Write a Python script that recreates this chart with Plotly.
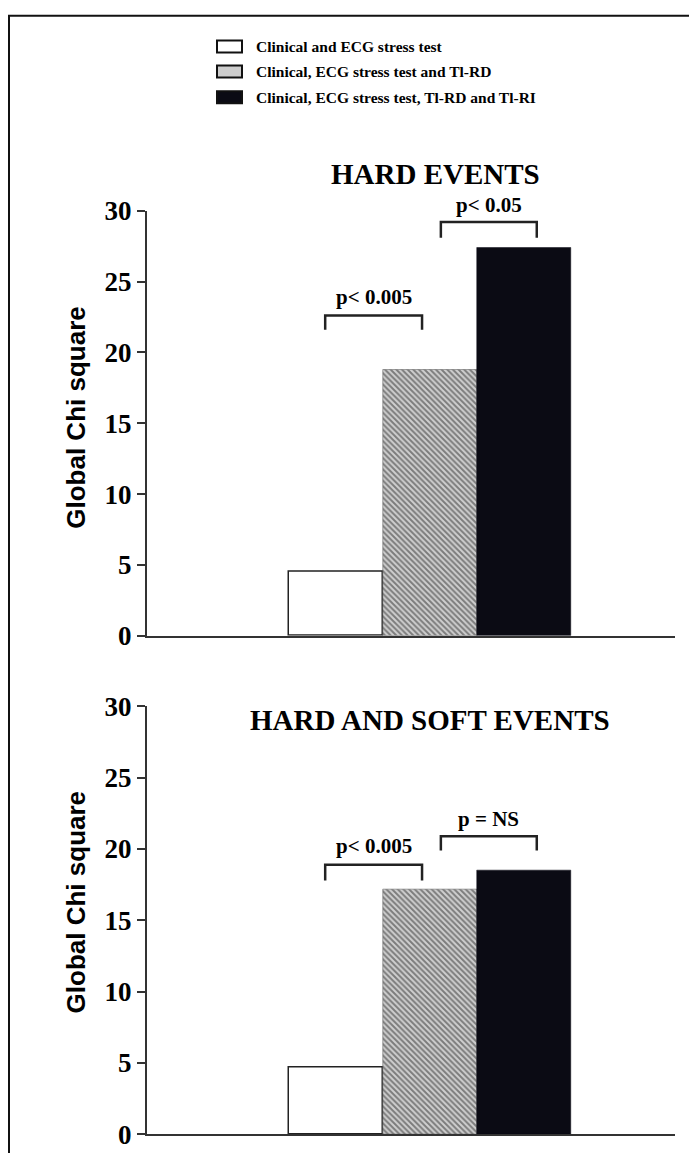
import plotly.graph_objects as go
from plotly.subplots import make_subplots

# ---- data ----
series_names = ["Clinical and ECG stress test",
                "Clinical, ECG stress test and Tl-RD",
                "Clinical, ECG stress test, Tl-RD and Tl-RI"]
bar_positions = [1, 2, 3]
hard_values = [4.5, 18.8, 27.4]
hard_soft_values = [4.7, 17.2, 18.5]
panel_titles = ["HARD EVENTS", "HARD AND SOFT EVENTS"]
y_ticks = [0, 5, 10, 15, 20, 25, 30]
hard_pvalues = ["p< 0.005", "p< 0.05"]
hard_soft_pvalues = ["p< 0.005", "p = NS"]

W, H = 689, 1168
def px(x):
    return x / W
def py(y):
    yf = (y - 13.3) / 0.979
    return min(1.0, max(0.0, 1 - yf / H))

fig = make_subplots(rows=2, cols=1)

for row, vals in [(1, hard_values), (2, hard_soft_values)]:
    for i, (xv, v) in enumerate(zip(bar_positions, vals)):
        if i == 0:
            marker = dict(color="white", line=dict(color="#222", width=1.5))
        elif i == 1:
            marker = dict(color="#c4c4c4",
                          pattern=dict(shape="\\", fgcolor="#2a2a2a", bgcolor="#cfcfcf",
                                       size=4, solidity=0.5),
                          line=dict(color="#555", width=0.5))
        else:
            marker = dict(color="#0b0b14", line=dict(color="#0b0b14", width=0.5))
        fig.add_trace(go.Bar(x=[xv], y=[v], width=1.0, marker=marker,
                             name=series_names[i], showlegend=False),
                      row=row, col=1)

xdom = [px(147), px(675)]
ydom1 = [py(637), py(210)]
ydom2 = [py(1138), py(708)]
fig.update_layout(
    width=W, height=H, margin=dict(l=0, r=0, t=0, b=0),
    paper_bgcolor="white", plot_bgcolor="white", bargap=0, barmode="overlay",
    showlegend=False,
    xaxis=dict(domain=xdom, anchor="y"),
    xaxis2=dict(domain=xdom, anchor="y2"),
    yaxis=dict(domain=ydom1, anchor="x"),
    yaxis2=dict(domain=ydom2, anchor="x2"),
)
for ax in ["xaxis", "xaxis2"]:
    fig.layout[ax].update(range=[-1.005, 4.61], showline=True, linecolor="#333",
                          linewidth=2, showticklabels=False, ticks="",
                          showgrid=False, zeroline=False)
for ax in ["yaxis", "yaxis2"]:
    fig.layout[ax].update(range=[0, 30], tickvals=y_ticks, showline=True,
                          linecolor="#333", linewidth=2, ticks="outside",
                          ticklen=8, tickwidth=2, tickcolor="#333",
                          showgrid=False, zeroline=False,
                          tickfont=dict(family="Liberation Serif", size=27,
                                        color="black", weight="bold"))

# frame border
fig.add_shape(type="line", xref="paper", yref="paper", x0=px(8), x1=1.0,
              y0=py(14), y1=py(14), line=dict(color="#111", width=2))
fig.add_shape(type="line", xref="paper", yref="paper", x0=px(9), x1=px(9),
              y0=py(14), y1=0, line=dict(color="#111", width=2))

# legend
leg_y = [45, 70, 96]
for i, name in enumerate(series_names):
    y = leg_y[i]
    fc = ["white", "#cdcdcd", "#0b0b14"][i]
    fig.add_shape(type="rect", xref="paper", yref="paper",
                  x0=px(217), x1=px(242), y0=py(y + 6), y1=py(y - 6),
                  fillcolor=fc, line=dict(color="#111", width=2))
    fig.add_annotation(xref="paper", yref="paper", x=px(254), y=py(y),
                       text=name, showarrow=False, xanchor="left", yanchor="middle",
                       font=dict(family="Liberation Serif", size=15.5, color="black",
                                 weight="bold"))

# panel titles and y titles
title_pos = [(435, 173), (430, 722)]
title_sizes = [29, 29]
ytitle_pos = [(76, 418), (76, 905)]
for k in range(2):
    fig.add_annotation(xref="paper", yref="paper", x=px(title_pos[k][0]),
                       y=py(title_pos[k][1]), text=panel_titles[k], showarrow=False,
                       xanchor="center", yanchor="middle",
                       font=dict(family="Liberation Serif", size=title_sizes[k],
                                 color="black", weight="bold"))
    fig.add_annotation(xref="paper", yref="paper", x=px(ytitle_pos[k][0]),
                       y=py(ytitle_pos[k][1]), text="Global Chi square",
                       showarrow=False, textangle=-90, xanchor="center",
                       yanchor="middle",
                       font=dict(family="Liberation Sans", size=26, color="black",
                                 weight="bold"))

# significance brackets
def to_paper(row, yv):
    d = ydom1 if row == 1 else ydom2
    return d[0] + (d[1] - d[0]) * yv / 30.0

def bracket(row, xa, xb, ytop, ybot, label, ylab):
    xr = "x" if row == 1 else "x2"
    yr = "y" if row == 1 else "y2"
    fig.add_shape(type="path", xref=xr, yref=yr,
                  path=f"M {xa} {ybot} L {xa} {ytop} L {xb} {ytop} L {xb} {ybot}",
                  line=dict(color="#222", width=2.5))
    fig.add_annotation(xref=xr, yref="paper", x=(xa + xb) / 2, y=to_paper(row, ylab),
                       text=label, showarrow=False, xanchor="center", yanchor="middle",
                       font=dict(family="Liberation Serif", size=21, color="black",
                                 weight="bold"))

b = bar_positions
bracket(1, b[0] - 0.11, b[1] - 0.08, hard_values[1] + 3.8, hard_values[1] + 2.8,
        hard_pvalues[0], hard_values[1] + 5.1)
bracket(1, b[1] + 0.12, b[2] + 0.14, hard_values[2] + 1.8, hard_values[2] + 0.7,
        hard_pvalues[1], hard_values[2] + 3.0)
bracket(2, b[0] - 0.11, b[1] - 0.08, hard_soft_values[1] + 1.7, hard_soft_values[1] + 0.6,
        hard_soft_pvalues[0], hard_soft_values[1] + 3.0)
bracket(2, b[1] + 0.12, b[2] + 0.14, hard_soft_values[2] + 2.4, hard_soft_values[2] + 1.4,
        hard_soft_pvalues[1], hard_soft_values[2] + 3.6)

fig.write_html(
    "out.html",
    config={"displayModeBar": False},
    post_script="document.body.style.margin='0';document.body.style.overflow='hidden';",
)
